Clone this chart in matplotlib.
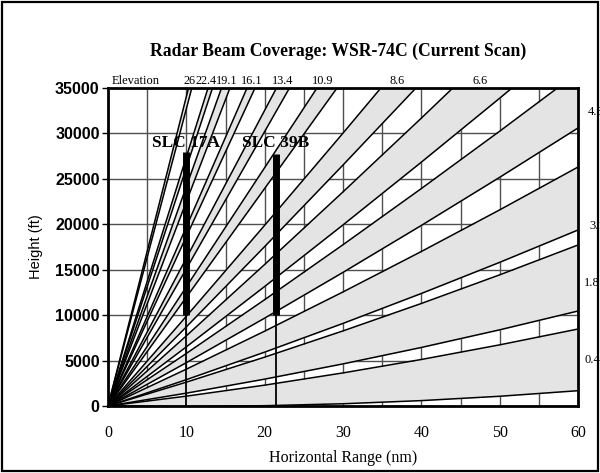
import matplotlib
matplotlib.use("Agg")
import matplotlib.pyplot as plt
from matplotlib.patches import Rectangle

# ---------------- data ----------------
ranges_nm = [0, 10, 20, 30, 40, 50, 60]

# low-angle beams (edges read as heights in ft at ranges_nm)
curved_labels = ["0.4", "1.8", "3.1", "4.3", "6.6", "8.6"]
curved_lower_ft = [
    [0, -50, 33, 247, 593, 1071, 1684],
    [0, 1413, 2957, 4634, 6442, 8383, 10455],
    [0, 2898, 5928, 9090, 12384, 15810, 19370],
    [0, 4770, 9672, 14706, 19872, 25170, 30600],
    [0, 6511, 13154, 19929, 26836, 33875, 41046],
    [0, 8708, 17548, 26520, 35624, 44860, 54228],
]
curved_upper_ft = [
    [0, 1082, 2296, 3642, 5120, 6730, 8472],
    [0, 2623, 5378, 8265, 11284, 14435, 17720],
    [0, 4053, 8238, 12555, 17004, 21585, 26300],
    [0, 5785, 11702, 17751, 23932, 30245, 36690],
    [0, 7723, 15578, 23565, 31684, 39935, 48318],
    [0, 9879, 19890, 30033, 40308, 50715, 61254],
]

# steep beams: range (nm) where each edge reaches the 35000 ft top
steep_labels = ["10.9", "13.4", "16.1", "19.1", "22.4", "26"]
steep_lower_exit_nm = [29.24, 23.17, 18.77, 15.57, 13.34, 10.70]
steep_upper_exit_nm = [26.68, 21.51, 17.75, 14.49, 12.77, 10.28]
top_height_ft = 35000

# elevation labels above the plot
top_label_text = ["26", "22.4", "19.1", "16.1", "13.4", "10.9", "8.6", "6.6"]
top_label_range_nm = [10.4, 12.55, 15.15, 18.3, 22.34, 27.45, 36.9, 47.5]

# elevation labels on the right (cut by the figure edge)
right_label_text = ["4.3", "3.1", "1.8", "0.4"]
right_label_height_ft = [32360, 19810, 13540, 5060]
right_label_range_nm = [61.3, 61.5, 60.8, 60.8]

# launch complexes
slc_names = ["SLC 17A", "SLC 39B"]
slc_range_nm = [9.9, 21.45]
slc_bottom_ft = [10000, 10000]
slc_top_ft = [28000, 27700]

x_ticks = [0, 10, 20, 30, 40, 50, 60]
y_ticks = [0, 5000, 10000, 15000, 20000, 25000, 30000, 35000]

# ---------------- plot ----------------
SERIF = ["Liberation Serif", "DejaVu Serif"]
SANS = ["Liberation Sans", "DejaVu Sans"]
FILL = "#e4e4e4"

fig = plt.figure(figsize=(6.0, 4.73), dpi=100)
ax = fig.add_axes([108 / 600, 67 / 473, 470 / 600, 318 / 473])

ax.set_xlim(0, 60)
ax.set_ylim(0, 35000)
ax.set_axisbelow(True)
ax.grid(True, color="#505050", lw=1.0)

# curved beams
for lo, up in zip(curved_lower_ft, curved_upper_ft):
    ax.fill_between(ranges_nm, lo, up, color=FILL, lw=0, zorder=1)
    ax.plot(ranges_nm, lo, color="black", lw=1.1, zorder=2)
    ax.plot(ranges_nm, up, color="black", lw=1.1, zorder=2)

# steep beams
for lo_x, up_x in zip(steep_lower_exit_nm, steep_upper_exit_nm):
    ax.fill([0, lo_x, up_x], [0, top_height_ft, top_height_ft],
            color=FILL, lw=0, zorder=1)
    ax.plot([0, lo_x], [0, top_height_ft], color="black", lw=1.1, zorder=2)
    ax.plot([0, up_x], [0, top_height_ft], color="black", lw=1.1, zorder=2)

# launch complexes
for name, r, b, t in zip(slc_names, slc_range_nm, slc_bottom_ft, slc_top_ft):
    ax.plot([r, r], [0, b], color="black", lw=1.3, zorder=3)
    ax.plot([r, r], [b, t], color="black", lw=5, solid_capstyle="butt", zorder=3)
    ax.text(r, 28950, name, family=SERIF, fontweight="bold", fontsize=12.5,
            ha="center", va="center", zorder=4)

# ticks
ax.set_xticks(range(0, 61, 5))
ax.set_xticklabels([str(v) if v in x_ticks else "" for v in range(0, 61, 5)])
ax.set_yticks(y_ticks)
ax.set_yticklabels([str(v) for v in y_ticks])
for lbl in ax.get_xticklabels():
    lbl.set_family(SERIF)
    lbl.set_fontsize(11.5)
for lbl in ax.get_yticklabels():
    lbl.set_family(SANS)
    lbl.set_fontweight("bold")
    lbl.set_fontsize(11.5)
ax.tick_params(axis="x", length=0, pad=14)
ax.tick_params(axis="y", length=4, width=1, pad=2, direction="out")

for s in ax.spines.values():
    s.set_linewidth(2)
    s.set_color("black")
    s.set_zorder(5)

ax.set_xlabel("Horizontal Range (nm)", family=SERIF, fontsize=11.5, labelpad=6)
ax.set_ylabel("Height (ft)", family=SANS, fontsize=10.5, labelpad=9)

# titles / labels
fig.text(338 / 600, 1 - 51 / 473, "Radar Beam Coverage: WSR-74C (Current Scan)",
         family=SERIF, fontweight="bold", fontsize=12.7, ha="center", va="center")
ax.text(0.5, 35750, "Elevation", family=SERIF, fontsize=9, ha="left",
        va="center", clip_on=False)
for txt, r in zip(top_label_text, top_label_range_nm):
    ax.text(r, 35750, txt, family=SERIF, fontsize=8.8, ha="center",
            va="center", clip_on=False)
for txt, r, h in zip(right_label_text, right_label_range_nm, right_label_height_ft):
    ax.text(r, h, txt, family=SERIF, fontsize=9, ha="left",
            va="center", clip_on=False)

# figure frame
fig.patches.append(Rectangle((0.004, 0.005), 0.992, 0.99, transform=fig.transFigure,
                             fill=False, edgecolor="black", lw=1.6))

fig.savefig("out.png", dpi=100)
